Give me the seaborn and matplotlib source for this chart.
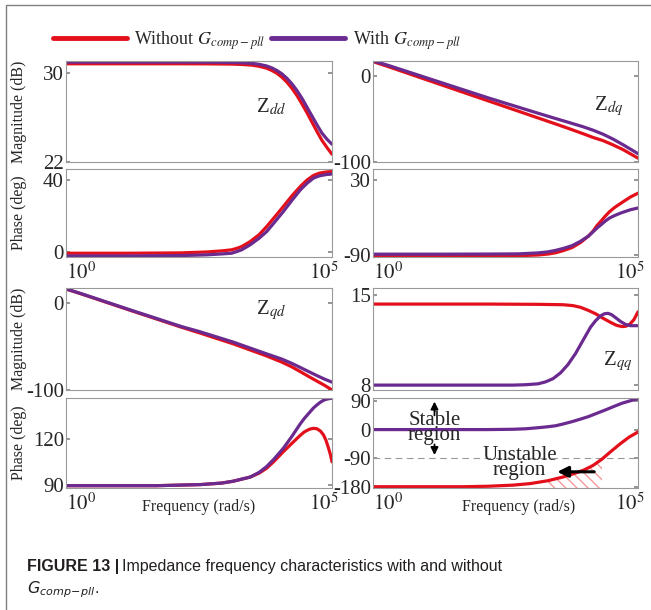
import numpy as np
import pandas as pd
import matplotlib
matplotlib.use("Agg")
import matplotlib.pyplot as plt
import seaborn as sns
from matplotlib.patches import Rectangle
from matplotlib.transforms import ScaledTranslation

# frequencies are given as log10(rad/s)

# Zdd magnitude (dB)
dd_mag_f = [-0.3, 1.0, 2.0, 2.6, 3.0, 3.2, 3.4, 3.55, 3.7, 3.8, 3.9, 4.0, 4.1, 4.2,
            4.3, 4.4, 4.5, 4.6, 4.7, 4.8, 4.9, 5.0]
dd_mag_red = [30.85, 30.85, 30.85, 30.84, 30.82, 30.79, 30.73, 30.62, 30.45, 30.25, 30.0,
              29.65, 29.2, 28.65, 28.0, 27.25, 26.45, 25.6, 24.75, 23.95, 23.3, 22.7]
dd_mag_pur = [31.0, 31.0, 31.0, 30.99, 30.97, 30.94, 30.89, 30.8, 30.65, 30.48, 30.25,
              29.95, 29.55, 29.05, 28.45, 27.75, 26.95, 26.15, 25.35, 24.6, 24.05, 23.6]

# Zdd phase (deg)
dd_ph_f = [-0.3, 1.0, 2.0, 2.5, 2.8, 3.0, 3.1, 3.2, 3.37, 3.55, 3.7, 3.85, 4.03, 4.2,
           4.37, 4.5, 4.63, 4.75, 4.88, 5.0]
dd_ph_red = [-0.9, -0.9, -0.7, -0.2, 0.4, 1.0, 1.8, 2.8, 5.6, 9.5, 14.0, 19.0, 25.1, 31.0,
             36.3, 39.8, 42.4, 43.7, 44.3, 44.6]
dd_ph_pur = [-2.4, -2.4, -2.2, -1.8, -1.3, -0.9, 0.0, 1.0, 3.8, 7.5, 11.2, 16.2, 22.3, 28.5,
             34.4, 38.0, 40.9, 42.2, 42.9, 43.2]

# Zdq magnitude (dB)
dq_mag_f = [-0.3, 0.0, 1.0, 2.0, 3.0, 3.3, 3.6, 3.9, 4.1, 4.3, 4.5, 4.7, 4.85, 5.0]
dq_mag_red = [17.3, 11.5, -8.5, -28.5, -48.5, -54.5, -60.6, -66.9, -71.3, -75.0, -80.0,
              -85.5, -90.5, -95.5]
dq_mag_pur = [18.2, 13.0, -6.0, -25.0, -43.0, -48.3, -53.5, -58.8, -62.8, -67.5, -73.2,
              -79.8, -85.0, -90.3]

# Zdq phase (deg)
dq_ph_f = [-0.3, 1.0, 2.0, 2.6, 3.0, 3.2, 3.35, 3.5, 3.68, 3.85, 4.01, 4.1, 4.18, 4.27,
           4.35, 4.43, 4.52, 4.6, 4.68, 4.85, 5.0]
dq_ph_red = [-91.5, -91.5, -91.3, -91.0, -89.8, -88.3, -86.3, -83.0, -78.0, -70.0, -59.6,
             -52.0, -43.0, -35.0, -27.6, -21.0, -15.0, -10.5, -6.3, 2.5, 8.5]
dq_ph_pur = [-88.5, -88.5, -88.3, -88.0, -86.5, -84.8, -82.5, -79.5, -75.0, -68.0, -59.6,
             -53.0, -47.0, -41.0, -35.6, -31.0, -27.5, -24.8, -22.3, -17.8, -15.0]

# Zqd magnitude (dB)
qd_mag_f = [-0.3, 0.0, 1.0, 2.0, 2.36, 3.03, 3.7, 4.0, 4.2, 4.37, 4.55, 4.7, 4.85, 5.0]
qd_mag_red = [15.8, 10.3, -9.0, -28.0, -34.5, -47.0, -61.0, -68.0, -73.5, -79.0, -85.0,
              -89.8, -94.6, -100.0]
qd_mag_pur = [16.0, 10.6, -8.5, -27.2, -33.0, -45.0, -58.6, -64.5, -69.5, -74.2, -79.3,
              -83.5, -87.5, -91.0]

# Zqd phase (deg)
qd_ph_f = [-0.3, 1.5, 2.37, 2.8, 3.03, 3.37, 3.55, 3.7, 3.85, 4.03, 4.2, 4.37, 4.45, 4.55,
           4.63, 4.7, 4.77, 4.83, 4.88, 4.93, 4.97, 5.0]
qd_ph_red = [89.5, 89.5, 90.2, 91.2, 92.4, 95.1, 97.7, 100.9, 105.5, 111.6, 117.0, 122.3,
             124.5, 126.2, 126.8, 126.5, 125.0, 122.5, 119.0, 114.0, 109.5, 105.0]
qd_ph_pur = [89.5, 89.5, 90.2, 91.2, 92.4, 95.1, 98.2, 102.0, 107.0, 113.8, 121.5, 129.8,
             133.3, 137.0, 140.0, 142.0, 143.8, 145.0, 145.6, 146.0, 146.2, 146.3]

# Zqq magnitude (dB)
qq_mag_red_f = [-0.3, 2.0, 3.0, 3.5, 3.7, 3.85, 4.0, 4.15, 4.3, 4.45, 4.57, 4.68, 4.76,
                4.84, 4.92, 5.0]
qq_mag_red = [14.3, 14.3, 14.28, 14.25, 14.18, 14.05, 13.82, 13.55, 13.2, 12.88, 12.65,
              12.55, 12.58, 12.75, 13.1, 13.7]
qq_mag_pur_f = [-0.3, 2.0, 2.5, 2.75, 3.0, 3.15, 3.3, 3.45, 3.6, 3.75, 3.9, 4.05, 4.15,
                4.25, 4.33, 4.4, 4.47, 4.55, 4.65, 4.75, 4.85, 5.0]
qq_mag_pur = [8.0, 8.0, 8.0, 8.03, 8.1, 8.25, 8.5, 8.95, 9.6, 10.45, 11.48, 12.5, 13.0,
              13.38, 13.55, 13.58, 13.48, 13.25, 12.95, 12.72, 12.62, 12.62]

# Zqq phase (deg)
qq_ph_pur_f = [-0.3, 2.0, 2.5, 2.75, 3.01, 3.2, 3.35, 3.5, 3.68, 3.85, 4.01, 4.18, 4.35,
               4.52, 4.68, 4.85, 5.0]
qq_ph_pur = [0, 0, 1, 2.5, 6, 9, 12, 17.5, 25, 33, 41, 51.5, 62, 73, 83, 91, 97]
qq_ph_red_f = [-0.3, 1.5, 2.0, 2.5, 2.85, 3.2, 3.51, 3.7, 3.91, 4.0, 4.1, 4.28, 4.45,
               4.65, 4.82, 5.0]
qq_ph_red = [-180, -180, -178.5, -175, -170, -161, -149, -139.5, -128, -121, -113, -93,
             -70, -44, -24, -7.5]

sns.set_theme(style="white")
plt.rcParams["font.family"] = ["Liberation Serif", "DejaVu Serif"]
plt.rcParams["mathtext.fontset"] = "stix"
plt.rcParams["axes.unicode_minus"] = False
plt.rcParams["hatch.linewidth"] = 1.0

RED = "#e3101c"
PURPLE = "#6a2a8f"
W, H = 651, 610

fig = plt.figure(figsize=(6.51, 6.10), dpi=100)


def box(x0, y0, x1, y1):
    # pixel box -> figure fraction
    return [x0 / W, 1 - y1 / H, (x1 - x0) / W, (y1 - y0) / H]


def draw(ax, f, vals, color, label=None):
    df = pd.DataFrame({"freq": 10.0 ** np.asarray(f), "val": vals})
    sns.lineplot(data=df, x="freq", y="val", ax=ax, color=color, lw=2.3,
                 sort=False, estimator=None, label=label, legend=False)


def style(ax, ylim, yticks, xlabels):
    ax.set_xscale("log")
    ax.set_xlim(10 ** -0.3, 1e5)
    ax.set_ylim(*ylim)
    ax.set_yticks(yticks)
    ax.set_yticklabels([str(t) for t in yticks], fontsize=15)
    ax.set_xticks([1, 1e5])
    ax.minorticks_off()
    ax.tick_params(axis="y", direction="in", length=3, pad=1.5, color="#888888",
                   left=True, right=True)
    ax.tick_params(axis="x", length=0, pad=4)
    if xlabels:
        ax.set_xticklabels([r"$10^0$", r"$10^5$"], fontsize=15)
        # 10^5 sits a little left of the axis end, like the original
        last = ax.get_xticklabels()[-1]
        last.set_transform(last.get_transform() + ScaledTranslation(-8 / 100, 0, fig.dpi_scale_trans))
    else:
        ax.set_xticklabels([])
    for s in ax.spines.values():
        s.set_color("#999999")
        s.set_linewidth(0.8)
    ax.set_xlabel("")
    ax.set_ylabel("")


L = (66, 332)
R = (373, 638)
ax_dd_m = fig.add_axes(box(L[0], 61, L[1], 162))
ax_dd_p = fig.add_axes(box(L[0], 169, L[1], 257))
ax_dq_m = fig.add_axes(box(R[0], 61, R[1], 162))
ax_dq_p = fig.add_axes(box(R[0], 169, R[1], 257))
ax_qd_m = fig.add_axes(box(L[0], 288, L[1], 390))
ax_qd_p = fig.add_axes(box(L[0], 398, L[1], 488))
ax_qq_m = fig.add_axes(box(R[0], 288, R[1], 390))
ax_qq_p = fig.add_axes(box(R[0], 398, R[1], 488))

draw(ax_dd_m, dd_mag_f, dd_mag_red, RED, label=r"Without $G_{comp-pll}$")
draw(ax_dd_m, dd_mag_f, dd_mag_pur, PURPLE, label=r"With $G_{comp-pll}$")
draw(ax_dd_p, dd_ph_f, dd_ph_red, RED)
draw(ax_dd_p, dd_ph_f, dd_ph_pur, PURPLE)
draw(ax_dq_m, dq_mag_f, dq_mag_red, RED)
draw(ax_dq_m, dq_mag_f, dq_mag_pur, PURPLE)
draw(ax_dq_p, dq_ph_f, dq_ph_red, RED)
draw(ax_dq_p, dq_ph_f, dq_ph_pur, PURPLE)
draw(ax_qd_m, qd_mag_f, qd_mag_red, RED)
draw(ax_qd_m, qd_mag_f, qd_mag_pur, PURPLE)
draw(ax_qd_p, qd_ph_f, qd_ph_red, RED)
draw(ax_qd_p, qd_ph_f, qd_ph_pur, PURPLE)
draw(ax_qq_m, qq_mag_red_f, qq_mag_red, RED)
draw(ax_qq_m, qq_mag_pur_f, qq_mag_pur, PURPLE)

# unstable hatch under the red phase curve
fq = 10.0 ** np.asarray(qq_ph_red_f)
mask = (np.asarray(qq_ph_red_f) >= 3.2) & (np.asarray(qq_ph_red_f) <= 4.28)
ax_qq_p.fill_between(fq, qq_ph_red, -184, where=mask, facecolor="none",
                     edgecolor="#f39a9a", hatch="\\\\\\", linewidth=0)
ax_qq_p.axhline(-90, color="#999999", ls=(0, (6, 4)), lw=0.8)
draw(ax_qq_p, qq_ph_red_f, qq_ph_red, RED)
draw(ax_qq_p, qq_ph_pur_f, qq_ph_pur, PURPLE)

style(ax_dd_m, (22, 31.1), [22, 30], False)
style(ax_dd_p, (-3, 46), [0, 40], True)
style(ax_dq_m, (-100, 18), [-100, 0], False)
style(ax_dq_p, (-93, 47), [-90, 30], True)
style(ax_qd_m, (-100, 17), [-100, 0], False)
style(ax_qd_p, (88, 146.5), [90, 120], True)
style(ax_qq_m, (7.62, 15.55), [8, 15], False)
style(ax_qq_p, (-184, 99.5), [-180, -90, 0, 90], True)

for ax in (ax_dd_m, ax_qd_m):
    ax.set_ylabel("Magnitude (dB)", fontsize=11.5)
    ax.yaxis.set_label_coords(-0.145, 0.5)
for ax in (ax_dd_p, ax_qd_p):
    ax.set_ylabel("Phase (deg)", fontsize=11.5)
    ax.yaxis.set_label_coords(-0.145, 0.5)

ax_qd_p.set_xlabel("Frequency (rad/s)", fontsize=11.5)
ax_qd_p.xaxis.set_label_coords(0.5, -0.12)
ax_qq_p.set_xlabel("Frequency (rad/s)", fontsize=11.5)
ax_qq_p.xaxis.set_label_coords(0.55, -0.12)

# impedance labels
ax_dd_m.text(0.77, 0.55, r"Z$_{dd}$", transform=ax_dd_m.transAxes, fontsize=15,
             ha="center", va="center")
ax_dq_m.text(0.89, 0.55, r"Z$_{dq}$", transform=ax_dq_m.transAxes, fontsize=15,
             ha="center", va="center")
ax_qd_m.text(0.77, 0.78, r"Z$_{qd}$", transform=ax_qd_m.transAxes, fontsize=15,
             ha="center", va="center")
ax_qq_m.text(0.925, 0.28, r"Z$_{qq}$", transform=ax_qq_m.transAxes, fontsize=15,
             ha="center", va="center")

# stable / unstable annotations
xs = 10 ** 0.93
ax_qq_p.annotate("", xy=(xs, 97), xytext=(xs, 36),
                 arrowprops=dict(arrowstyle="-|>", color="black", lw=1.3, mutation_scale=11))
ax_qq_p.annotate("", xy=(xs, -89), xytext=(xs, -38),
                 arrowprops=dict(arrowstyle="-|>", color="black", lw=1.3, mutation_scale=11))
ax_qq_p.text(xs, 5, "Stable\nregion", fontsize=15, ha="center", va="center",
             linespacing=0.72)
ax_qq_p.text(10 ** 2.63, -106, "Unstable\nregion", fontsize=15, ha="center",
             va="center", linespacing=0.72)
ax_qq_p.annotate("", xy=(10 ** 3.33, -133), xytext=(10 ** 4.18, -133),
                 arrowprops=dict(arrowstyle="-|>", color="black", lw=2.2, mutation_scale=16))

# legend on top
handles, labels = ax_dd_m.get_legend_handles_labels()
fig.legend(handles, labels, loc="center", bbox_to_anchor=(0.395, 0.934), ncol=2,
           frameon=False, fontsize=13, handlelength=4.1, handletextpad=0.4,
           columnspacing=0.3)
for h in fig.legends[0].get_lines():
    h.set_linewidth(3.5)

# caption
fig.text(27 / W, 1 - 567 / H, "FIGURE 13 |", fontsize=11.5, fontweight="bold",
         family="Liberation Sans", color="#231f20", va="center")
fig.text(122 / W, 1 - 567 / H, "Impedance frequency characteristics with and without",
         fontsize=11.5, family="Liberation Sans", color="#231f20", va="center")
fig.text(27 / W, 1 - 590 / H, r"$G_{comp\!-\!pll}$.", fontsize=11.5,
         family="Liberation Sans", color="#231f20", va="center",
         math_fontfamily="dejavusans")

# page frame
fig.add_artist(Rectangle((6 / W, -0.05), 1.0, 1 - 5 / H + 0.05, transform=fig.transFigure,
                         fill=False, edgecolor="#808080", lw=1))

fig.savefig("out.png", dpi=100)
